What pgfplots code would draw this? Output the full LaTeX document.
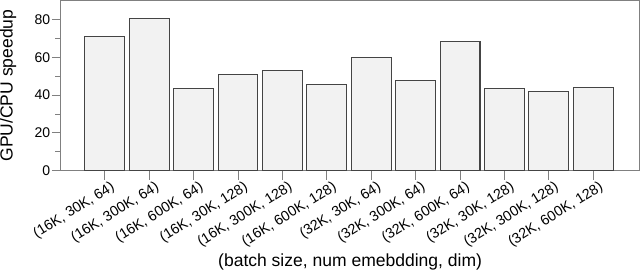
\documentclass[border=0pt]{standalone}
\usepackage{fontspec}
\setmainfont{Liberation Sans}
\usepackage{pgfplots}
\pgfplotsset{compat=1.18}
\definecolor{barfill}{HTML}{F2F2F2}
\definecolor{baredge}{HTML}{444444}
\definecolor{axcol}{HTML}{808080}
\begin{document}
\begin{tikzpicture}
\begin{axis}[
  scale only axis,
  width=578pt, height=170pt,
  xmin=-0.99, xmax=12.04,
  ymin=0, ymax=90,
  ytick={0,20,40,60,80},
  minor ytick={10,30,50,70},
  xtick={0,...,11},
  xticklabels={{(16K, 30K, 64)},{(16K, 300K, 64)},{(16K, 600K, 64)},{(16K, 30K, 128)},{(16K, 300K, 128)},{(16K, 600K, 128)},{(32K, 30K, 64)},{(32K, 300K, 64)},{(32K, 600K, 64)},{(32K, 30K, 128)},{(32K, 300K, 128)},{(32K, 600K, 128)}},
  xticklabel style={rotate=32, anchor=north east, font=\fontsize{14.3}{16}\selectfont, inner sep=1pt, xshift=5pt, yshift=-2pt},
  yticklabel style={font=\fontsize{14}{16}\selectfont, inner sep=1.5pt},
  /pgf/number format/assume math mode=true,
  tick align=outside,
  xtick pos=bottom, ytick pos=left,
  major tick length=9pt, minor tick length=5.5pt,
  tick style={axcol, line width=1pt},
  axis line style={axcol, line width=1.2pt},
  ylabel={GPU/CPU speedup},
  xlabel={(batch size, num emebdding, dim)},
  label style={font=\fontsize{17.5}{20}\selectfont},
  ylabel style={at={(axis description cs:-0.1055,0.5)}, anchor=north, inner sep=0pt},
  xlabel style={at={(axis description cs:0.5,-0.562)}, anchor=base, inner sep=0pt},
]
\addplot[ybar, bar width=0.9, fill=barfill, draw=baredge, line width=1pt] coordinates {
(0,70.8) (1,80.5) (2,43.6) (3,50.9) (4,53.0) (5,45.4) (6,59.9) (7,47.8) (8,68.5) (9,43.6) (10,41.9) (11,44.0)
};
\end{axis}
\end{tikzpicture}
\end{document}
